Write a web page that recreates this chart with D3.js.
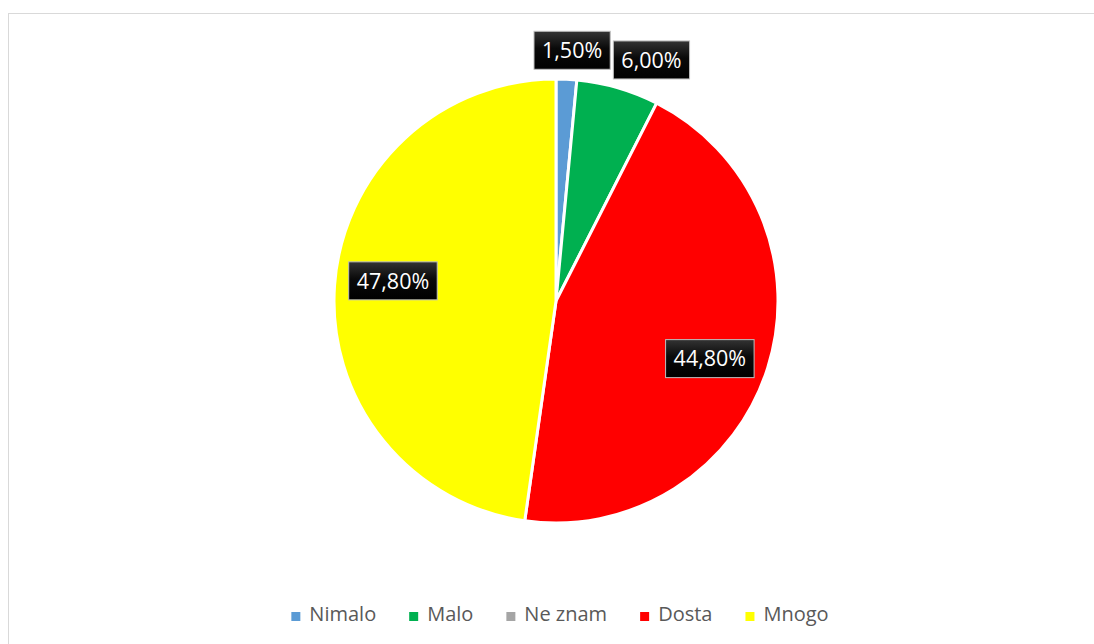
<!DOCTYPE html>
<html>
<head>
<meta charset="utf-8">
<script src="https://cdn.jsdelivr.net/npm/d3@7"></script>
<style>
  body { margin: 0; background: #fff; }
  svg { display: block; }
</style>
</head>
<body>
<div class="pie-container"></div>
<script>
// data
const categories = ['Nimalo', 'Malo', 'Ne znam', 'Dosta', 'Mnogo'];
const values = [1.5, 6.0, 0, 44.8, 47.8];
const labels = ['1,50%', '6,00%', '', '44,80%', '47,80%'];
const colors = ['#5B9BD5', '#00B050', '#A5A5A5', '#FF0000', '#FFFF00'];

const svg_width = 1094;
const svg_height = 644;
const cx = 556, cy = 301, radius = 222;

const svg = d3.select('.pie-container').append('svg')
    .attr('width', svg_width).attr('height', svg_height);

// chart frame
svg.append('rect')
    .attr('x', 8.5).attr('y', 13.5)
    .attr('width', svg_width + 10).attr('height', svg_height + 10)
    .style('fill', '#fff').style('stroke', '#d9d9d9').style('stroke-width', 1);

const defs = svg.append('defs');
const grad = defs.append('linearGradient').attr('id', 'lblGrad')
    .attr('x1', 0).attr('y1', 0).attr('x2', 0).attr('y2', 1);
grad.append('stop').attr('offset', '0%').attr('stop-color', '#333');
grad.append('stop').attr('offset', '45%').attr('stop-color', '#0a0a0a');
grad.append('stop').attr('offset', '100%').attr('stop-color', '#000');

const pieData = d3.pie().sort(null).value(d => d.value)
    (categories.map((c, i) => ({ name: c, value: values[i], label: labels[i], color: colors[i] })));

const arc = d3.arc().innerRadius(0).outerRadius(radius);

const g = svg.append('g').attr('transform', `translate(${cx},${cy})`);

g.selectAll('.slice')
    .data(pieData.filter(d => d.value > 0))
    .enter()
    .append('path')
    .attr('class', 'slice')
    .attr('d', arc)
    .style('fill', d => d.data.color)
    .style('stroke', '#fff')
    .style('stroke-width', 3)
    .style('stroke-linejoin', 'round');

// data labels
const lbl = g.selectAll('.lbl')
    .data(pieData.filter(d => d.value > 0))
    .enter()
    .append('g')
    .attr('class', 'lbl');

lbl.append('text')
    .text(d => d.data.label)
    .attr('text-anchor', 'middle')
    .attr('dy', '0.36em')
    .style('font-family', '"Open Sans", sans-serif')
    .style('font-size', '21.5px')
    .style('fill', '#fff');

lbl.each(function (d) {
  const sel = d3.select(this);
  const t = sel.select('text');
  const bb = t.node().getBBox();
  const w = bb.width + 16, h = 38;
  const mid = (d.startAngle + d.endAngle) / 2;
  const share = (d.endAngle - d.startAngle) / (2 * Math.PI);
  let x, y;
  if (share > 0.1) {
    // inside, best fit
    const r = radius * 0.74;
    const a = mid + 3 * Math.PI / 180;
    x = Math.sin(a) * r;
    y = -Math.cos(a) * r;
  } else {
    // outside end
    const r = radius + 29;
    x = Math.sin(mid) * r + Math.sin(mid) * w * 1.2;
    y = -Math.cos(mid) * r;
  }
  sel.attr('transform', `translate(${x},${y})`);
  sel.insert('rect', 'text')
      .attr('x', -w / 2).attr('y', -h / 2)
      .attr('width', w).attr('height', h)
      .style('fill', 'url(#lblGrad)')
      .style('stroke', '#bfbfbf')
      .style('stroke-width', 1);
});

// legend
const legend = svg.append('g').attr('class', 'legend');
const items = legend.selectAll('.item')
    .data(categories)
    .enter()
    .append('g')
    .attr('class', 'item');

items.append('rect')
    .attr('width', 9).attr('height', 9)
    .attr('y', -9)
    .style('fill', (d, i) => colors[i]);

items.append('text')
    .attr('x', 18)
    .text(d => d)
    .style('font-family', '"Open Sans", sans-serif')
    .style('font-size', '20px')
    .style('fill', '#595959');

let xPos = 0;
items.each(function () {
  const item = d3.select(this);
  item.attr('transform', `translate(${xPos},0)`);
  const tw = item.select('text').node().getComputedTextLength();
  xPos += 18 + tw + 33;
});
const legendWidth = xPos - 33;
legend.attr('transform', `translate(${560 - legendWidth / 2},621)`);
</script>
</body>
</html>
